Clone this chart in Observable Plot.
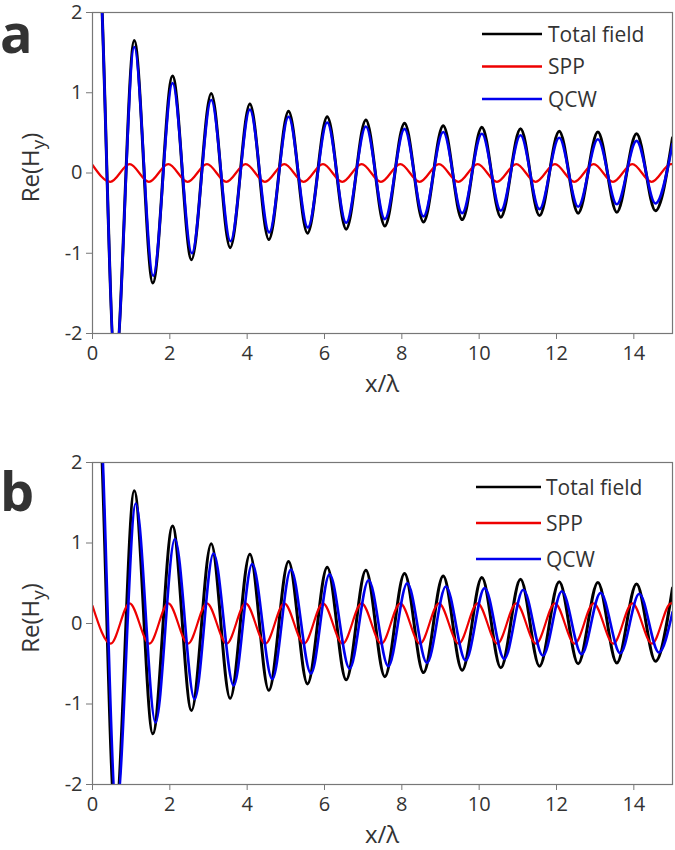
<!DOCTYPE html>
<html>
<head>
<meta charset="utf-8">
<script src="https://cdn.jsdelivr.net/npm/d3@7"></script>
<script src="https://cdn.jsdelivr.net/npm/@observablehq/plot@0.6"></script>
<style>
  html, body { margin: 0; padding: 0; background: #fff; }
  body { width: 675px; height: 850px; overflow: hidden; font-family: "Open Sans", sans-serif; }
  .panel { position: relative; width: 675px; }
  .panel svg { display: block; }
</style>
</head>
<body>
<div id="chart"></div>
<script>
// ---- data ----
const seriesNames = ["Total field", "SPP", "QCW"];
const seriesColors = ["#000000", "#ee0000", "#0000ee"];
const xTicks = [0, 2, 4, 6, 8, 10, 12, 14];
const yTicks = [-2, -1, 0, 1, 2];

// Total field (same in both panels): extrema positions and values
const totalX = [0, 0.25, 0.59, 1.08, 1.56, 2.07, 2.56, 3.07, 3.56, 4.07, 4.56, 5.07, 5.56, 6.07, 6.56, 7.07, 7.56, 8.07, 8.56, 9.07, 9.56, 10.07, 10.56, 11.07, 11.56, 12.07, 12.56, 13.07, 13.56, 14.07, 14.56, 15];
const totalY = [5.5, 2.0, -2.4, 1.65, -1.37, 1.21, -1.08, 0.99, -0.93, 0.86, -0.83, 0.77, -0.75, 0.70, -0.70, 0.66, -0.66, 0.62, -0.61, 0.59, -0.58, 0.57, -0.55, 0.55, -0.53, 0.52, -0.50, 0.51, -0.49, 0.49, -0.47, 0.44];

// Panel a
const sppAX = [0, 0.46, 0.96, 1.46, 1.96, 2.46, 2.96, 3.46, 3.96, 4.46, 4.96, 5.46, 5.96, 6.46, 6.96, 7.46, 7.96, 8.46, 8.96, 9.46, 9.96, 10.46, 10.96, 11.46, 11.96, 12.46, 12.96, 13.46, 13.96, 14.46, 14.96, 15];
const sppAY = [0.10, -0.11, 0.11, -0.11, 0.11, -0.11, 0.11, -0.11, 0.11, -0.11, 0.11, -0.11, 0.11, -0.11, 0.11, -0.11, 0.11, -0.11, 0.11, -0.11, 0.11, -0.11, 0.11, -0.11, 0.11, -0.11, 0.11, -0.11, 0.11, -0.11, 0.11, 0.11];
const qcwAX = [0, 0.25, 0.59, 1.08, 1.57, 2.07, 2.57, 3.07, 3.57, 4.07, 4.57, 5.07, 5.57, 6.07, 6.56, 7.07, 7.56, 8.07, 8.56, 9.07, 9.56, 10.07, 10.56, 11.07, 11.56, 12.07, 12.56, 13.07, 13.56, 14.07, 14.56, 15];
const qcwAY = [5.5, 2.0, -2.4, 1.57, -1.28, 1.12, -1.0, 0.91, -0.85, 0.79, -0.74, 0.70, -0.68, 0.63, -0.62, 0.58, -0.575, 0.55, -0.54, 0.51, -0.50, 0.49, -0.47, 0.47, -0.45, 0.44, -0.42, 0.42, -0.39, 0.40, -0.38, 0.36];

// Panel b
const sppBX = [0, 0.47, 0.96, 1.47, 1.96, 2.47, 2.96, 3.47, 3.96, 4.47, 4.96, 5.47, 5.96, 6.47, 6.96, 7.47, 7.96, 8.47, 8.96, 9.47, 9.96, 10.47, 10.96, 11.47, 11.96, 12.47, 12.96, 13.47, 13.96, 14.47, 14.96, 15];
const sppBY = [0.22, -0.25, 0.25, -0.25, 0.25, -0.25, 0.25, -0.25, 0.25, -0.25, 0.25, -0.25, 0.25, -0.25, 0.25, -0.25, 0.25, -0.25, 0.25, -0.25, 0.25, -0.25, 0.25, -0.25, 0.25, -0.25, 0.25, -0.25, 0.25, -0.25, 0.25, 0.25];
const qcwBX = [0, 0.27, 0.62, 1.12, 1.63, 2.13, 2.64, 3.13, 3.65, 4.13, 4.65, 5.13, 5.65, 6.13, 6.65, 7.14, 7.65, 8.14, 8.65, 9.14, 9.65, 10.14, 10.65, 11.14, 11.65, 12.14, 12.65, 13.14, 13.65, 14.14, 14.65, 15];
const qcwBY = [5.5, 2.0, -2.3, 1.49, -1.23, 1.05, -0.94, 0.87, -0.77, 0.74, -0.69, 0.67, -0.62, 0.61, -0.56, 0.54, -0.53, 0.50, -0.49, 0.46, -0.46, 0.44, -0.44, 0.42, -0.40, 0.40, -0.38, 0.38, -0.37, 0.37, -0.36, 0.14];

const panelLetters = ["a", "b"];
const xLabel = "x/λ";

// ---- build ----
function pts(xs, ys) { return xs.map((x, i) => ({x, y: ys[i]})); }

const panels = [
  {letter: panelLetters[0], series: [pts(totalX, totalY), pts(sppAX, sppAY), pts(qcwAX, qcwAY)],
   m: {top: 12, bottom: 92}, letterY: 53, legend: {y0: 34, dy: 32.5, x1: 482, x2: 542, tx: 548}},
  {letter: panelLetters[1], series: [pts(totalX, totalY), pts(sppBX, sppBY), pts(qcwBX, qcwBY)],
   m: {top: 37, bottom: 66}, letterY: 86, legend: {y0: 62, dy: 36, x1: 476, x2: 541, tx: 546}}
];

const root = document.getElementById("chart");
const widths = [3, 2.2, 2.6];
const FONT = "Open Sans, sans-serif";

panels.forEach(p => {
  const marks = [
    Plot.axisX({ticks: xTicks, tickSize: 6, tickPadding: 6, tickFormat: d => String(d), label: null, stroke: "#777", fill: "#333"}),
    Plot.axisY({ticks: yTicks, tickSize: 6, tickPadding: 4, tickFormat: d => String(d), label: null, stroke: "#777", fill: "#333"}),
  ];
  p.series.forEach((s, i) => {
    marks.push(Plot.line(s, {x: "x", y: "y", stroke: seriesColors[i], strokeWidth: widths[i], curve: "monotone-x", clip: true}));
  });
  marks.push(Plot.frame({stroke: "#777", strokeWidth: 1.2}));

  const svgEl = Plot.plot({
    width: 675, height: 425,
    marginLeft: 92, marginRight: 3, marginTop: p.m.top, marginBottom: p.m.bottom,
    x: {domain: [0, 15]},
    y: {domain: [-2, 2]},
    style: {fontFamily: FONT, color: "#333", background: "#fff", overflow: "visible"},
    marks
  });
  const div = document.createElement("div");
  div.className = "panel";
  div.appendChild(svgEl);
  root.appendChild(div);

  const svg = d3.select(svgEl);
  // axis tick labels produced by Plot
  svg.selectAll("text").style("font-size", "20px").style("font-family", FONT).attr("fill", "#333");
  const top = p.m.top, bottom = 425 - p.m.bottom;
  const cy = (top + bottom) / 2;
  // x label
  svg.append("text").attr("x", (92 + 672) / 2).attr("y", bottom + 51).attr("dy", "0.35em")
    .attr("text-anchor", "middle").style("font-size", "24px").attr("fill", "#333")
    .style("font-family", FONT).text(xLabel);
  // y label with subscript
  const t = svg.append("text")
    .attr("transform", `translate(39,${cy - 5}) rotate(-90)`)
    .attr("text-anchor", "middle")
    .style("font-size", "24px").attr("fill", "#333")
    .style("font-family", FONT);
  t.append("tspan").text("Re(H");
  t.append("tspan").attr("baseline-shift", "-30%").style("font-size", "19px").text("y");
  t.append("tspan").text(")");
  // panel letter
  svg.append("text").attr("x", 0).attr("y", p.letterY)
    .attr("text-anchor", "start")
    .style("font-size", "54px").attr("font-weight", "bold").attr("fill", "#333")
    .style("font-family", FONT).text(p.letter);
  // legend
  const L = p.legend;
  seriesNames.forEach((name, i) => {
    const y = L.y0 + i * L.dy;
    svg.append("line").attr("x1", L.x1).attr("x2", L.x2).attr("y1", y).attr("y2", y)
      .attr("stroke", seriesColors[i]).attr("stroke-width", 2.5);
    svg.append("text").attr("x", L.tx).attr("y", y).attr("dy", "0.36em")
      .attr("text-anchor", "start")
      .style("font-size", "21px").attr("fill", "#333")
      .style("font-family", FONT).text(name);
  });
});
</script>
</body>
</html>
